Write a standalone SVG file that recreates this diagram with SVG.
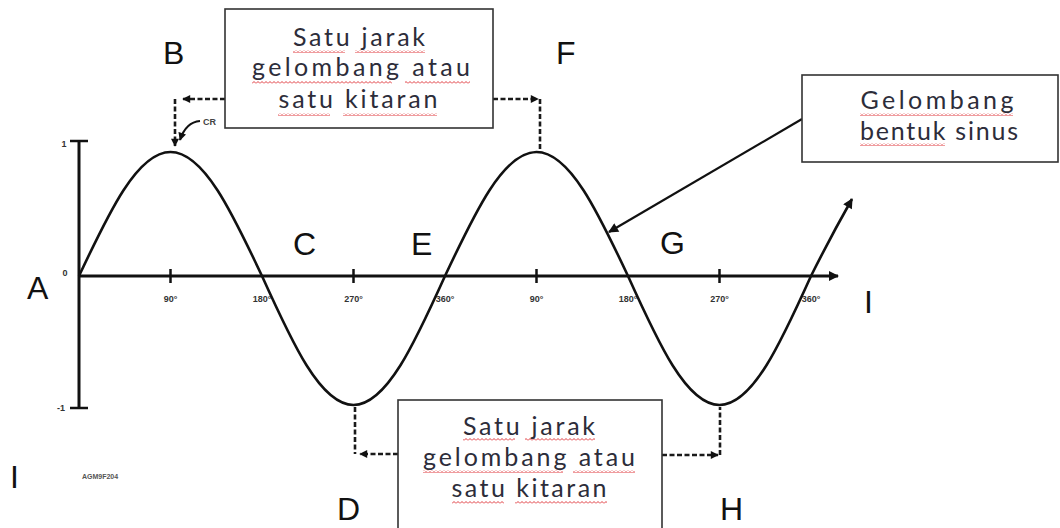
<svg xmlns="http://www.w3.org/2000/svg" width="1060" height="528" viewBox="0 0 1060 528">
<defs>
<marker id="ah" viewBox="0 0 10 10" refX="9" refY="5" markerWidth="11" markerHeight="10" markerUnits="userSpaceOnUse" orient="auto"><path d="M0 0 L10 5 L0 10 Z" fill="#111"/></marker>
<marker id="ahs" viewBox="0 0 10 10" refX="9" refY="5" markerWidth="9" markerHeight="8" markerUnits="userSpaceOnUse" orient="auto"><path d="M0 0 L10 5 L0 10 Z" fill="#111"/></marker>
<pattern id="wave" width="4" height="3" patternUnits="userSpaceOnUse"><path d="M0 2.5 L2 0.5 L4 2.5" fill="none" stroke="#e0393e" stroke-width="1"/></pattern>
</defs>
<style>
.ax{stroke:#111;stroke-width:3;fill:none}
.wv{stroke:#111;stroke-width:2.6;fill:none}
.tk{stroke:#111;stroke-width:2.5}
.tl{font-family:"Liberation Sans",Arial,sans-serif;font-size:9px;font-weight:bold;fill:#333;text-anchor:middle}
.lt{font-family:"Liberation Sans",Arial,sans-serif;font-size:32px;fill:#111}
.box{fill:#fff;stroke:#333;stroke-width:1.6}
.bt{font-family:Lato,"Open Sans",sans-serif;font-size:25px;fill:#2d2d3a;text-anchor:middle}
.dash{stroke:#1a1a1a;stroke-width:2.6;fill:none;stroke-dasharray:5 2.5}
.ul{fill:url(#wave)}
</style>

<g id="axes">
<line class="ax" x1="79" y1="141" x2="79" y2="408"/>
<line class="tk" x1="70" y1="141" x2="88" y2="141"/>
<line class="tk" x1="70" y1="408" x2="88" y2="408"/>
<line class="ax" x1="79" y1="276" x2="838" y2="276" marker-end="url(#ah)"/>
<line class="tk" x1="170.5" y1="269" x2="170.5" y2="283"/>
<line class="tk" x1="353.5" y1="269" x2="353.5" y2="283"/>
<line class="tk" x1="536.5" y1="269" x2="536.5" y2="283"/>
<line class="tk" x1="719.5" y1="269" x2="719.5" y2="283"/>
<text class="tl" x="64" y="147">1</text>
<text class="tl" x="65" y="276">0</text>
<text class="tl" x="61" y="411">-1</text>
<text class="tl" x="170.5" y="302">90°</text>
<text class="tl" x="262" y="302">180°</text>
<text class="tl" x="353.5" y="302">270°</text>
<text class="tl" x="445" y="302">360°</text>
<text class="tl" x="536.5" y="302">90°</text>
<text class="tl" x="628" y="302">180°</text>
<text class="tl" x="719.5" y="302">270°</text>
<text class="tl" x="811" y="302">360°</text>
<text class="tl" x="100" y="479" style="font-size:7px;fill:#555">AGM9F204</text>
</g>

<g id="sine">
<path class="wv" d="M79 276 C108.84 212.5 137.39 152 170.5 152 C203.61 152 232.16 212.5 262 276 C291.84 342.09 320.39 405 353.5 405 C386.61 405 415.16 342.09 445 276 C474.84 212.5 503.39 152 536.5 152 C569.61 152 598.16 212.5 628 276 C657.84 342.09 686.39 405 719.5 405 C752.61 405 781.16 342.09 811 276 Q831 236 852 199" marker-end="url(#ah)"/>
</g>

<g id="labels">
<text class="lt" x="27" y="299">A</text>
<text class="lt" x="163" y="64">B</text>
<text class="lt" x="293" y="255">C</text>
<text class="lt" x="337" y="520">D</text>
<text class="lt" x="411" y="255">E</text>
<text class="lt" x="556" y="64">F</text>
<text class="lt" x="660" y="254">G</text>
<text class="lt" x="720" y="520">H</text>
<text class="lt" x="864" y="313">I</text>
<text class="lt" x="10" y="488">I</text>
</g>

<g id="connectors">
<path class="dash" d="M225 99 H183" marker-end="url(#ahs)"/>
<path class="dash" d="M175 99 V146" marker-end="url(#ahs)"/>
<path d="M200 121 Q186 122 180 140" fill="none" stroke="#111" stroke-width="2.2" marker-end="url(#ahs)"/>
<text x="203" y="125" style="font-family:'Liberation Sans',sans-serif;font-size:9px;font-weight:bold;fill:#444">CR</text>
<path class="dash" d="M493 99 H538" marker-end="url(#ahs)"/>
<path class="dash" d="M540 99 V152"/>
<path class="dash" d="M355 407 V454"/>
<path class="dash" d="M398 454 H360" marker-end="url(#ahs)"/>
<path class="dash" d="M662 455 H718" marker-end="url(#ahs)"/>
<path class="dash" d="M720 455 V407"/>
<line x1="802" y1="119" x2="609" y2="232" stroke="#111" stroke-width="2.2" marker-end="url(#ah)"/>
</g>

<g id="box-top">
<rect class="box" x="225" y="9" width="268" height="119"/>
<rect class="ul" x="293" y="50" width="52" height="3"/>
<rect class="ul" x="355" y="50" width="70" height="3"/>
<rect class="ul" x="252" y="81" width="140" height="3"/>
<rect class="ul" x="405" y="81" width="65" height="3"/>
<rect class="ul" x="278" y="113" width="52" height="3"/>
<rect class="ul" x="343" y="113" width="94" height="3"/>
<text class="bt" x="359" y="46" textLength="132" lengthAdjust="spacing">Satu jarak</text>
<text class="bt" x="361" y="76" textLength="218" lengthAdjust="spacing">gelombang atau</text>
<text class="bt" x="358" y="108" textLength="159" lengthAdjust="spacing">satu kitaran</text>
</g>

<g id="box-bottom">
<rect class="box" x="398" y="400" width="264" height="140"/>
<rect class="ul" x="463" y="438" width="52" height="3"/>
<rect class="ul" x="525" y="438" width="70" height="3"/>
<rect class="ul" x="423" y="470" width="140" height="3"/>
<rect class="ul" x="573" y="470" width="62" height="3"/>
<rect class="ul" x="452" y="501" width="52" height="3"/>
<rect class="ul" x="515" y="501" width="92" height="3"/>
<text class="bt" x="529" y="435" textLength="132" lengthAdjust="spacing">Satu jarak</text>
<text class="bt" x="529" y="466" textLength="212" lengthAdjust="spacing">gelombang atau</text>
<text class="bt" x="529" y="497" textLength="155" lengthAdjust="spacing">satu kitaran</text>
</g>

<g id="box-sine">
<rect class="box" x="802" y="75" width="256" height="87"/>
<rect class="ul" x="860" y="113" width="153" height="3"/>
<rect class="ul" x="860" y="143" width="85" height="3"/>
<text class="bt" x="937" y="109" textLength="153" lengthAdjust="spacing">Gelombang</text>
<text class="bt" x="939" y="140" textLength="158" lengthAdjust="spacing">bentuk sinus</text>
</g>
</svg>
